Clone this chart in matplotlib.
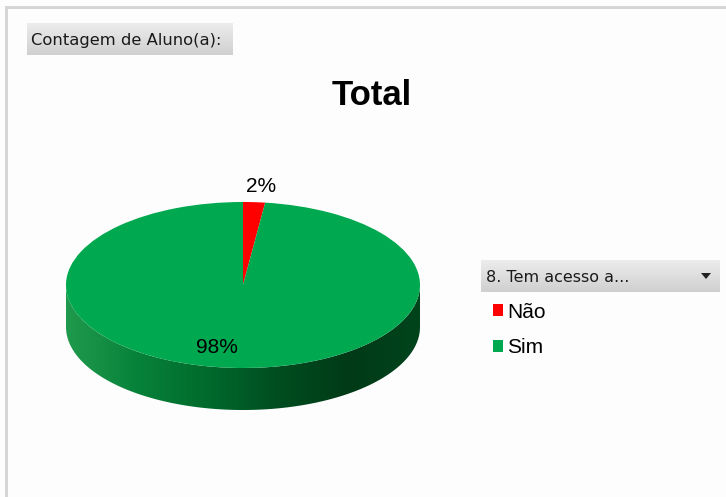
import numpy as np
import matplotlib
matplotlib.use("Agg")
import matplotlib.pyplot as plt
from matplotlib.colors import LinearSegmentedColormap
from matplotlib.patches import Rectangle, Polygon

# data
categorias = ["Não", "Sim"]
percentuais = [2, 98]
cores = ["#ff0000", "#00a84f"]
titulo = "Total"
campo_valor = "Contagem de Aluno(a):"
campo_legenda = "8. Tem acesso a..."

W, H = 726, 497
fig = plt.figure(figsize=(W / 100, H / 100), dpi=100, facecolor="#fdfdfd")

# background axes in pixel coordinates
bg = fig.add_axes([0, 0, 1, 1])
bg.set_axis_off()

cinza = LinearSegmentedColormap.from_list("btn", ["#ececec", "#d0d0d0"])
grad = np.linspace(0, 1, 40).reshape(-1, 1)

# frame lines (top and left)
bg.add_patch(Rectangle((5, 6), W, 3, color="#d6d6d6", lw=0))
bg.add_patch(Rectangle((5, 6), 3, H, color="#d6d6d6", lw=0))

# field button top-left
bg.imshow(grad, cmap=cinza, extent=(27, 233, 55, 23), aspect="auto")
bg.text(31, 40, campo_valor, fontsize=11.8, va="center", ha="left",
        family="DejaVu Sans", color="#1a1a1a")

# legend field button
bg.imshow(grad, cmap=cinza, extent=(481, 720, 292, 260), aspect="auto")
bg.text(486, 277, campo_legenda, fontsize=11.5, va="center", ha="left",
        family="DejaVu Sans", color="#1a1a1a")
bg.add_patch(Polygon([[701, 273], [711, 273], [706, 279]], color="#222222", lw=0))

bg.set_xlim(0, W)
bg.set_ylim(H, 0)

# title
fig.text(372 / W, 1 - 96 / H, titulo, fontsize=25, fontweight="bold",
         family="Liberation Sans", ha="center", va="center")

# pie (3D look: ellipse top face + shaded side wall)
profundidade = 42 / 83
ax = fig.add_axes([66 / W, 87 / H, 354 / W, 208 / H])
fatias, _ = ax.pie(percentuais, colors=cores, startangle=90, counterclock=False,
                   wedgeprops=dict(linewidth=0))
for f in fatias:
    f.set_zorder(2)
ax.set_aspect("auto")
ax.set_xlim(-1, 1)
ax.set_ylim(-1 - profundidade, 1)
ax.set_axis_off()

t = np.linspace(np.pi, 2 * np.pi, 200)
topo = np.column_stack([np.cos(t), np.sin(t)])
base = np.column_stack([np.cos(t[::-1]), np.sin(t[::-1]) - profundidade])
parede = Polygon(np.vstack([topo, base]), closed=True, facecolor="none", lw=0)
ax.add_patch(parede)
verde_lado = LinearSegmentedColormap.from_list(
    "lado", ["#1f9a4c", "#07823a", "#006a2c", "#004d20", "#003a17", "#00441c"])
img = ax.imshow(np.linspace(0, 1, 300).reshape(1, -1), cmap=verde_lado,
                extent=(-1, 1, -1 - profundidade, 0), aspect="auto", zorder=1)
img.set_clip_path(parede)

# percentage labels
raios = [1.19, 0.76]
deslocx = [0.03, -0.10]
for f, p, r, dx in zip(fatias, percentuais, raios, deslocx):
    meio = np.deg2rad((f.theta1 + f.theta2) / 2)
    ax.text(r * np.cos(meio) + dx, r * np.sin(meio), f"{p}%", fontsize=15,
            family="Liberation Sans", ha="center", va="center", zorder=3)

# legend
fig.legend(fatias, categorias, loc="upper left",
           bbox_to_anchor=(478 / W, 1 - 288 / H), frameon=False,
           handlelength=0.5, handleheight=0.5, handletextpad=0.2,
           labelspacing=0.8, borderpad=0.2, prop={"family": "Liberation Sans", "size": 15})

fig.savefig("out.png", dpi=100, facecolor=fig.get_facecolor())
